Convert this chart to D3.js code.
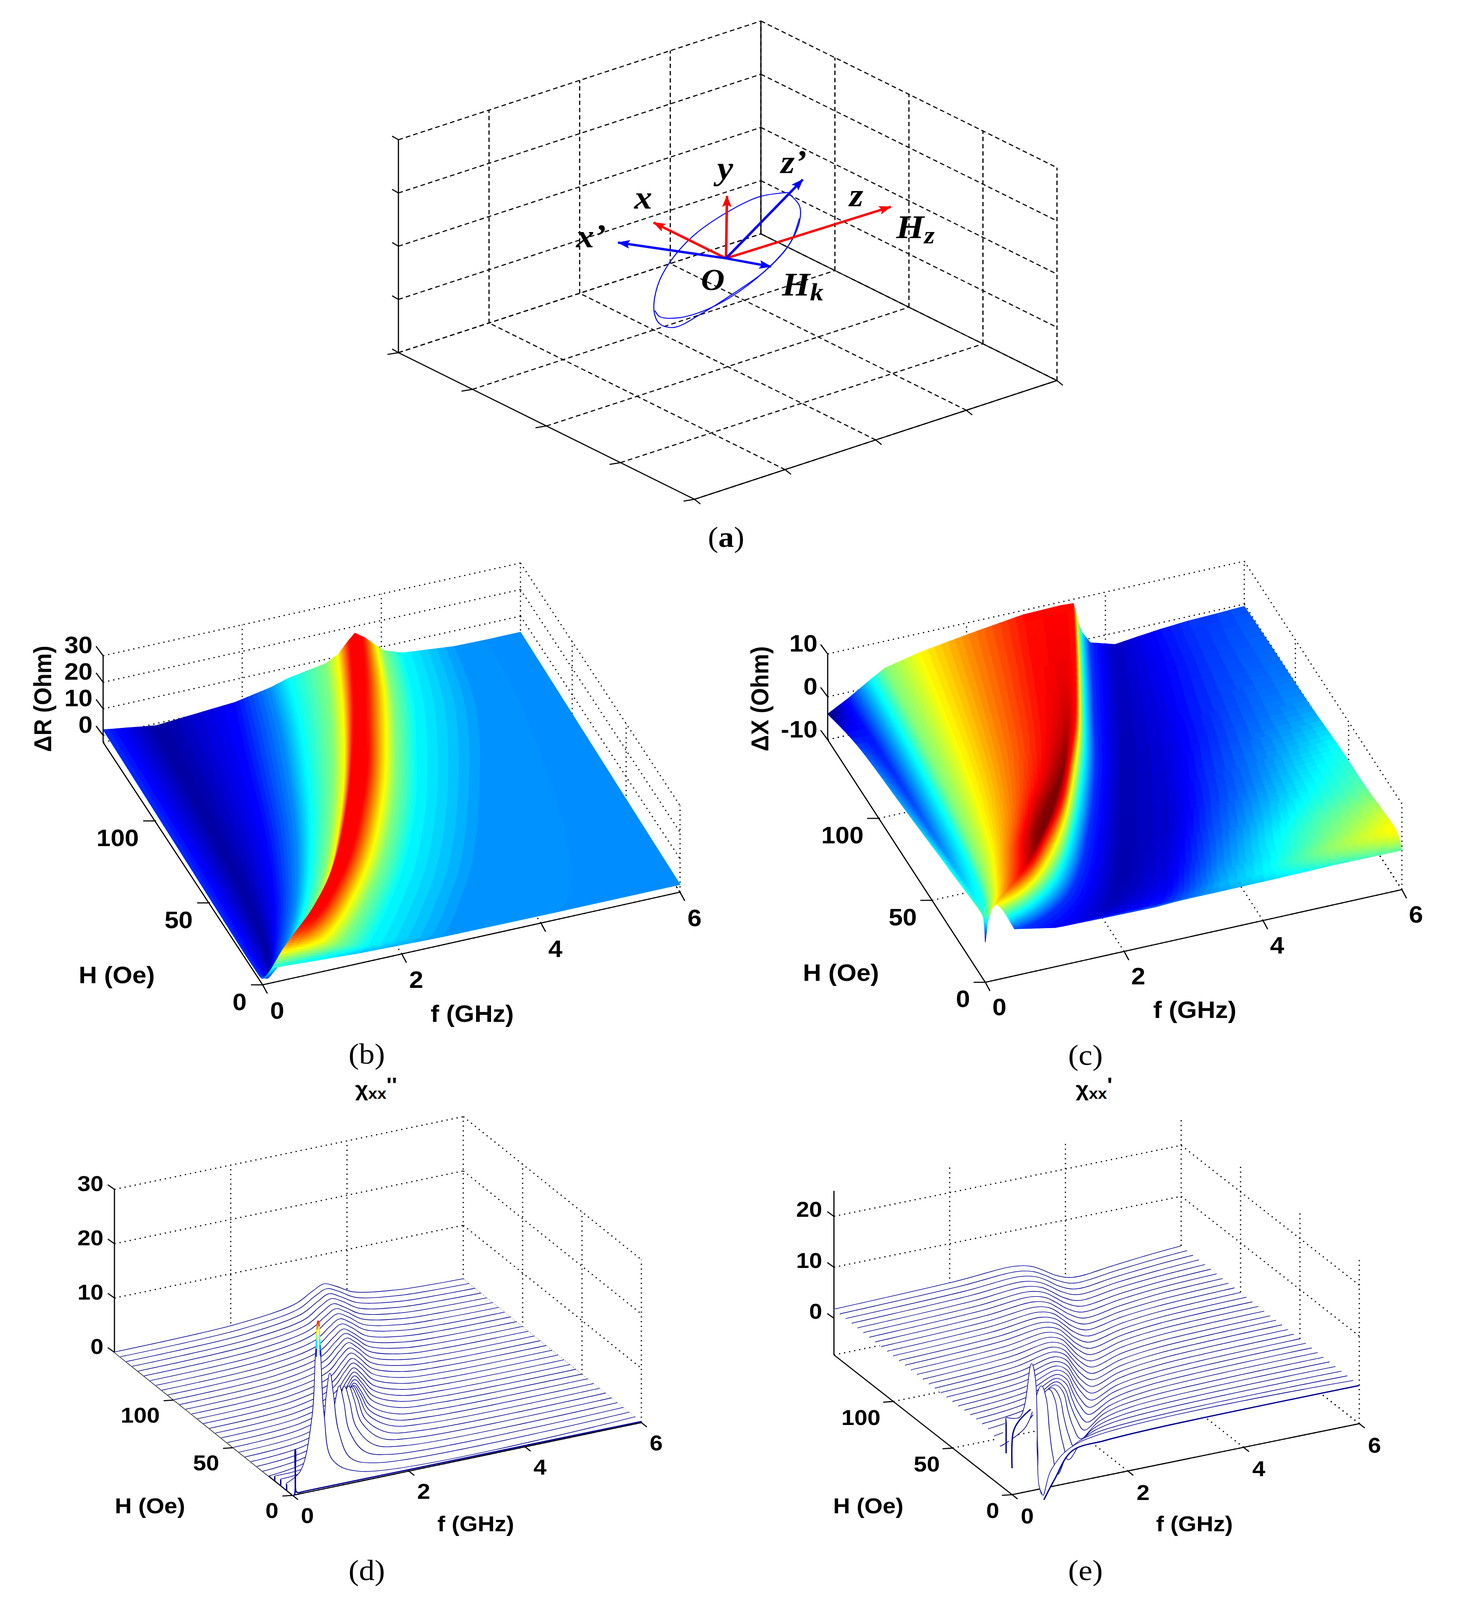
<!DOCTYPE html>
<html><head><meta charset="utf-8">
<script src="https://d3js.org/d3.v7.min.js"></script>
<style>html,body{margin:0;background:#fff;overflow:hidden}svg{display:block;width:100vw;height:100vh}text{font-family:"Liberation Sans";font-weight:bold;fill:#000;dominant-baseline:central}.cap{font-family:"Liberation Serif";font-weight:normal}.it{font-family:"Liberation Serif";font-style:italic;font-weight:bold}</style>
</head><body><svg id="c" viewBox="0 0 3789 4419" preserveAspectRatio="none"></svg>
<script>
// ---------- DATA ----------
const fTicks=[0,2,4,6], hTicks=[0,50,100];
const rTicks=[0,10,20,30], xTicks=[-10,0,10], chiTicksD=[0,10,20,30], chiTicksE=[0,10,20];
const gridTicksA=[0,1,2,3,4];
// (b) Delta-R: rows of H, each row lists f and R at the same nodes across the resonance
const surfH=[148,125,105,85,70,55,42,32,24,17,11,6,3,1,0];
const rF=[
[0,.76,1.9,2.4,2.67,3.2,3.38,3.52,3.62,3.76,3.93,4.04,4.3,5.05,5.5,6],
[0,.72,1.67,2.22,2.47,2.92,3.09,3.22,3.32,3.47,3.69,3.82,4.12,4.95,5.5,6],
[0,.68,1.49,1.99,2.24,2.64,2.81,2.92,3.01,3.16,3.4,3.54,3.84,4.75,5.4,6],
[0,.63,1.32,1.77,1.99,2.34,2.5,2.6,2.69,2.85,3.09,3.24,3.54,4.45,5.3,6],
[0,.6,1.17,1.58,1.78,2.08,2.23,2.33,2.41,2.57,2.82,2.98,3.3,4.2,5.2,6],
[0,.55,1,1.36,1.54,1.81,1.94,2.03,2.1,2.26,2.51,2.68,3,3.95,5.1,6],
[0,.5,.84,1.15,1.32,1.55,1.67,1.75,1.81,1.97,2.22,2.39,2.72,3.7,5,6],
[0,.45,.69,.97,1.12,1.32,1.43,1.5,1.55,1.71,1.95,2.13,2.47,3.5,4.9,6],
[0,.4,.56,.8,.94,1.11,1.21,1.27,1.31,1.47,1.71,1.89,2.24,3.3,4.8,6],
[0,.35,.44,.64,.76,.91,.99,1.04,1.08,1.24,1.49,1.68,2.04,3.1,4.7,6],
[0,.28,.33,.49,.59,.72,.79,.83,.86,1.02,1.28,1.48,1.86,2.95,4.6,6],
[0,.2,.23,.35,.43,.52,.57,.6,.63,.8,1.07,1.3,1.7,2.8,4.5,6],
[0,.13,.17,.25,.31,.37,.41,.43,.45,.63,.93,1.17,1.6,2.7,4.4,6],
[0,.07,.12,.16,.19,.22,.25,.27,.3,.5,.82,1.08,1.55,2.65,4.3,6],
[0,.02,.04,.06,.08,.1,.12,.14,.16,.3,.6,.9,1.4,2.6,4.2,6]];
const rZ=[
[.7,-2.2,0,2.5,4.6,7,9.4,13.5,16,13.5,9.4,7,4.6,2.7,2.5,2.5],
[.7,-2.2,0,2.5,4.6,7,9.4,13.5,15.6,13.5,9.4,7,4.6,2.7,2.5,2.5],
[.7,-2.2,0,2.5,4.6,7,9.4,13.5,15,13.5,9.4,7,4.6,2.7,2.5,2.5],
[.7,-2.2,0,2.5,4.6,7,9.4,14,14.8,14,9.4,7,4.6,2.7,2.5,2.5],
[.7,-2.2,0,2.5,4.6,7,9.4,14,14.5,14,9.4,7,4.6,2.7,2.5,2.5],
[.7,-2.2,0,2.5,4.6,7,9.4,14,14.5,14,9.4,7,4.6,2.7,2.5,2.5],
[.7,-2.2,0,2.5,4.6,7,9.4,14,14.5,14,9.4,7,4.6,2.7,2.5,2.5],
[.7,-2.2,0,2.5,4.6,7,9.4,14,14.5,14,9.4,7,4.6,2.7,2.5,2.5],
[.7,-2.2,0,2.5,4.6,7,9.4,14,14.5,14,9.4,7,4.6,2.7,2.5,2.5],
[.7,-2.2,0,2.5,4.6,7,9.4,14,14.5,14,9.4,7,4.6,2.7,2.5,2.5],
[.8,-2,0,2.5,4.6,7,9.4,14,14.5,14,9.4,7,4.6,2.7,2.5,2.5],
[1,-1.5,.2,2.5,4.6,7,9.4,13.5,14,13.5,9.4,7,4.6,2.7,2.5,2.5],
[1,-.5,.5,2.5,4.6,7,9.4,12,12.5,12,9.4,7,4.6,2.7,2.5,2.5],
[1.5,1,1.5,3,4.6,7,8.5,9.5,10,9.5,8.5,7,4.6,2.7,2.5,2.5],
[2,2.2,2.6,3,3.5,4,4.6,5,5.2,5,4.6,4.2,3.5,2.7,2.5,2.5]];
// (c) Delta-X
const xF=[
[0,.29,.63,.83,1.34,2.03,2.82,3.37,3.54,3.59,3.62,3.66,3.78,4.14,4.5,4.8,5.2,5.6,6],
[0,.26,.58,.76,1.22,1.85,2.57,3.07,3.22,3.27,3.3,3.34,3.47,3.85,4.3,4.7,5.1,5.5,6],
[0,.24,.53,.69,1.11,1.68,2.34,2.79,2.92,2.97,3,3.05,3.18,3.58,4.1,4.5,5,5.5,6],
[0,.22,.47,.62,1,1.51,2.11,2.51,2.62,2.67,2.7,2.75,2.9,3.3,3.9,4.4,4.9,5.4,6],
[0,.19,.42,.56,.9,1.36,1.89,2.25,2.32,2.37,2.42,2.48,2.64,3.05,3.7,4.2,4.8,5.4,6],
[0,.17,.37,.49,.79,1.19,1.66,1.98,2.03,2.08,2.13,2.19,2.37,2.8,3.5,4.1,4.7,5.3,6],
[0,.15,.32,.43,.68,1.04,1.4,1.66,1.75,1.8,1.85,1.91,2.1,2.6,3.3,3.9,4.6,5.3,6],
[0,.13,.28,.37,.6,.91,1.22,1.43,1.47,1.55,1.62,1.69,1.9,2.45,3.1,3.8,4.5,5.2,6],
[0,.11,.24,.32,.52,.78,1.05,1.2,1.23,1.32,1.4,1.48,1.7,2.3,3,3.7,4.4,5.2,6],
[0,.09,.2,.27,.43,.66,.88,1,1.03,1.1,1.18,1.27,1.5,2.15,2.9,3.6,4.3,5.1,6],
[0,.07,.16,.21,.34,.52,.7,.8,.83,.89,.94,1.03,1.27,2,2.8,3.5,4.3,5.1,6],
[0,.05,.11,.15,.24,.37,.5,.57,.6,.64,.68,.77,1,1.8,2.7,3.5,4.2,5,6],
[0,.03,.07,.1,.16,.25,.33,.39,.41,.44,.47,.55,.8,1.6,2.6,3.4,4.2,5,6],
[0,.02,.04,.05,.08,.12,.16,.19,.21,.24,.27,.35,.6,1.3,2.5,3.4,4.2,5,6],
[0,.01,.02,.03,.05,.07,.09,.12,.16,.22,.28,.34,.42,1,2.3,3.3,4.2,5,6]];
const xZ=[
[-4,-1.5,1.9,3.75,5.6,7.3,9,9.2,9,5.6,3.75,1.9,-1,-2.7,-2,-1.5,-1,-.8,-.5],
[-1,-1.5,1.9,3.75,5.6,7.3,9,9.4,9,5.6,3.75,1.9,-1,-2.8,-2.1,-1.5,-1,-.6,-.2],
[0,-1.2,1.9,3.75,5.6,7.3,9,9.6,9,5.6,3.75,1.9,-1,-2.9,-2.2,-1.5,-.8,-.3,0],
[.5,-.8,1.9,3.75,5.6,7.3,9,10,9,5.6,3.75,1.9,-1,-3,-2.3,-1.4,-.6,0,.5],
[1,-.4,1.9,3.75,5.6,7.3,9,10.6,9,5.6,3.75,1.9,-1,-3,-2.3,-1.2,-.2,.6,1.5],
[1.5,0,1.9,3.75,5.6,7.3,9.4,11,9,5.6,3.75,1.9,-1,-3,-2.4,-1,0,1.2,2.3],
[2,.6,1.9,3.75,5.6,7.5,10,11.4,9,5.6,3.75,1.9,-1,-3.1,-2.4,-.8,.6,1.8,2.8],
[2.2,1,2,3.75,5.6,8,10.5,11.5,9,5.6,3.75,1.9,-1,-3.1,-2.3,-.5,1,2.3,3.4],
[2.5,1.4,2.1,3.75,5.8,8.2,10.6,11.3,9,5.6,3.75,1.9,-1,-3.1,-2.2,-.2,1.4,3,4.2],
[2.7,1.7,2.2,3.8,5.9,8,10,11,9,5.6,3.75,1.9,-1,-3,-2,0,1.6,3.3,4.8],
[2.9,2,2.5,3.8,5.7,7.7,9.3,10,8.5,5.6,3.75,1.9,-1,-2.9,-1.8,.3,1.8,3.6,5.4],
[3,2.4,2.8,3.8,5.5,7,8.3,8.8,8,5.6,3.75,1.9,-1,-2.6,-1.5,.6,2,4,5.8],
[3,2.7,3,3.8,5,6.2,7.2,7.6,7,5.6,3.75,1.9,-1,-2.3,-1.3,.8,2,3.8,5.4],
[2.5,2.7,3,3.6,4.5,5.3,6,6.3,6,5.3,3.75,1.9,-1,-2,-1.2,.6,1.8,3.2,4.2],
[-2.5,-1,0,2,3,4,5,5.5,6,5,3.7,1.9,-.5,-1.7,-.5,.5,1.5,2.5,3.4]];
// (d),(e) waterfall rows: H, and f at the nodes of each row
const chiH=[150,145,140,135,130,125,120,115,110,105,100,95,90,85,80,75,70,65,60,55,50,45,40,35,30,25,20,15,10,5];
const chiF=[
[0,2.11,3.11,3.41,3.61,3.81,4.11,4.86,6],[0,2.08,3.06,3.35,3.55,3.75,4.04,4.78,6],[0,2.05,3.01,3.3,3.49,3.68,3.97,4.69,6],
[0,2.02,2.96,3.24,3.43,3.62,3.9,4.61,6],[0,1.98,2.9,3.18,3.36,3.54,3.82,4.51,6],[0,1.95,2.85,3.12,3.3,3.48,3.75,4.43,6],
[0,1.91,2.79,3.05,3.23,3.41,3.67,4.33,6],[0,1.88,2.74,2.99,3.165,3.34,3.6,4.24,6],[0,1.83,2.67,2.92,3.09,3.26,3.51,4.14,6],
[0,1.79,2.61,2.86,3.02,3.18,3.43,4.05,6],[0,1.75,2.55,2.79,2.95,3.11,3.35,3.95,6],[0,1.71,2.49,2.72,2.875,3.03,3.27,3.85,6],
[0,1.66,2.42,2.65,2.8,2.95,3.18,3.75,6],[0,1.61,2.35,2.57,2.72,2.87,3.09,3.65,6],[0,1.56,2.28,2.5,2.64,2.78,3,3.54,6],
[0,1.51,2.21,2.42,2.555,2.7,2.91,3.43,6],[0,1.45,2.13,2.33,2.47,2.61,2.81,3.32,6],[0,1.39,2.05,2.25,2.38,2.51,2.71,3.21,6],
[0,1.33,1.97,2.16,2.285,2.41,2.61,3.09,6],[0,1.26,1.88,2.07,2.19,2.31,2.5,2.97,6],[0,1.19,1.79,1.97,2.09,2.21,2.39,2.84,6],
[0,1.14,1.7,1.87,1.98,2.09,2.26,2.68,6],[0,1.06,1.6,1.76,1.87,1.98,2.14,2.55,6],[0,.97,1.49,1.65,1.75,1.85,2.01,2.4,6],
[0,.9,1.38,1.52,1.62,1.72,1.86,2.22,6],[0,.815,1.255,1.39,1.475,1.56,1.695,2.025,6],[0,.7,1.1,1.22,1.3,1.38,1.5,1.8,6],
[0,.6,.94,1.04,1.11,1.18,1.28,1.54,6],[0,.43,.71,.79,.847,.9,.99,1.2,6],[0,.24,.44,.5,.54,.58,.64,.79,6]];
// tail node of each row, between the last two nodes of chiF
const chiTailF=[5.45,5.4,5.35,5.3,5.2,5.1,5,4.9,4.8,4.7,4.6,4.5,4.4,4.3,4.2,4.1,4,3.9,3.8,3.7,3.6,3.4,3.2,3.05,2.85,2.6,2.35,2,1.65,1.25];
const chiDoubleTail=[.25,.25,.25,.25,.25,.25,.25,.25,.25,.25,.25,.25,.25,.25,.25,.25,.25,.25,.25,.3,.3,.3,.3,.3,.3,.35,.35,.4,.5,.7];
const chiPrimeTail=[-.25,-.25,-.25,-.25,-.25,-.25,-.25,-.25,-.3,-.3,-.3,-.3,-.3,-.3,-.3,-.35,-.35,-.35,-.35,-.35,-.4,-.4,-.45,-.45,-.5,-.55,-.6,-.7,-.8,-.9];
const chiDoubleZ=[
[0,.45,1.9,3.6,4.5,3.6,1.9,.6,.1],[0,.46,1.93,3.7,4.6,3.7,1.93,.6,.1],[0,.47,2,3.75,4.7,3.75,2,.6,.1],
[0,.48,2,3.85,4.8,3.85,2,.62,.1],[0,.5,2.05,3.9,4.9,3.9,2.05,.64,.1],[0,.5,2.1,4,5,4,2.1,.65,.1],
[0,.5,2.15,4.1,5.1,4.1,2.15,.66,.1],[0,.52,2.2,4.15,5.2,4.15,2.2,.68,.1],[0,.53,2.2,4.25,5.3,4.25,2.2,.7,.1],
[0,.54,2.25,4.3,5.4,4.3,2.25,.7,.1],[0,.56,2.35,4.5,5.6,4.5,2.35,.73,.1],[0,.58,2.45,4.65,5.8,4.65,2.45,.75,.1],
[0,.6,2.5,4.8,6,4.8,2.5,.78,.1],[0,.61,2.55,4.9,6.1,4.9,2.55,.8,.1],[0,.62,2.6,5,6.2,5,2.6,.8,.1],
[0,.63,2.65,5,6.3,5,2.65,.82,.1],[0,.65,2.75,5.2,6.5,5.2,2.75,.85,.1],[0,.67,2.8,5.35,6.7,5.35,2.8,.87,.1],
[0,.7,2.95,5.6,7,5.6,2.95,.9,.1],[0,.74,3.1,5.9,7.4,5.9,3.1,.96,.1],[0,.78,3.3,6.25,7.8,6.25,3.3,1,.1],
[0,.83,3.5,6.65,8.3,6.65,3.5,1.1,.12],[0,.9,3.8,7.2,9,7.2,3.8,1.15,.12],[0,1,4.2,8,10,8,4.2,1.3,.12],
[0,1.1,4.6,8.8,11,8.8,4.6,1.4,.12],[0,1.25,5.2,9.9,12.4,9.9,5.2,1.6,.12],[0,1.35,5.7,10.9,13.6,10.9,5.7,1.8,.12],
[.9,1.5,6.3,12,15,12,6.3,2,.12],[1.2,1.9,7.9,15,18.8,15,7.9,2.4,.12],[1.3,3,12.4,23.7,30,23.7,12.4,3.8,.15]];
const chiPrimeZ=[
[1.7,2.3,2.9,2.2,1,-.4,-1.6,-.9,.2],[1.7,2.3,2.9,2.2,1,-.4,-1.65,-.9,.2],[1.7,2.3,2.95,2.2,1,-.45,-1.7,-.9,.2],
[1.7,2.35,3,2.2,.95,-.5,-1.75,-.9,.2],[1.7,2.35,3.05,2.25,.95,-.5,-1.8,-.9,.2],[1.7,2.35,3.1,2.3,.95,-.55,-1.85,-.95,.2],
[1.7,2.4,3.15,2.35,.95,-.6,-1.9,-.95,.2],[1.7,2.4,3.2,2.4,.95,-.6,-2,-1,.2],[1.7,2.4,3.25,2.45,.95,-.65,-2.05,-1,.2],
[1.7,2.4,3.3,2.45,.95,-.7,-2.1,-1,.2],[1.7,2.45,3.35,2.5,.95,-.75,-2.2,-1.05,.2],[1.7,2.45,3.4,2.55,.95,-.8,-2.3,-1.05,.2],
[1.7,2.5,3.5,2.6,.95,-.85,-2.4,-1.1,.2],[1.7,2.5,3.6,2.7,.95,-.9,-2.5,-1.1,.2],[1.7,2.55,3.7,2.75,.95,-.95,-2.6,-1.15,.2],
[1.7,2.6,3.8,2.85,.95,-1,-2.7,-1.2,.2],[1.7,2.6,3.95,2.95,.95,-1.05,-2.8,-1.25,.25],[1.75,2.7,4.1,3.05,.95,-1.1,-2.9,-1.3,.25],
[1.8,2.75,4.25,3.2,1,-1.15,-3.05,-1.35,.25],[1.85,2.8,4.45,3.3,1,-1.2,-3.2,-1.4,.25],[1.9,2.9,4.7,3.5,1,-1.3,-3.4,-1.5,.25],
[1.95,3,5,3.75,1.05,-1.4,-3.6,-1.6,.3],[2,3.1,5.3,4,1.1,-1.5,-3.8,-1.7,.3],[2.05,3.2,5.7,4.25,1.1,-1.65,-4.1,-1.8,.3],
[2.1,3.3,6.2,4.6,1.15,-1.8,-4.4,-1.9,.3],[2.1,3.4,6.8,5.1,1.2,-2,-4.8,-2.1,.3],[2,3.5,7.5,5.6,1.3,-2.3,-5.3,-2.3,.3],
[1.5,3.5,8.5,6.4,1.4,-2.6,-6,-2.6,.3],[.5,3.2,10.6,8,1.5,-3.2,-7.3,-3,.3],[7,6.5,16.5,13.5,0,-8,-9.8,-5,.3]];
// front row H = 0
const chiDoubleRow0F=[0,.03,.045,.05,.06,.09,.2,.6,6], chiDoubleRow0Z=[0,0,8.3,8.3,.6,.3,.3,.3,.2];
const chiPrimeRow0F=[0,.02,.12,.32,.4,.55,.73,1.04,1.6,2.5,6], chiPrimeRow0Z=[-2,5,7,8.8,NaN,-9.5,-6,-1,-.3,.1,.3];
// short stems at f = 0 of the lowest rows: H, from, to
const chiDoubleStems=[[15,0,.9],[10,0,1.2],[5,0,1.3]];
const chiPrimeStems=[[5,0,7]];
// peak of the H=5 row of (d): f and value, coloured by value
const spikeF=[.505,.51,.515,.52,.525,.53,.54,.55,.56,.565,.57,.575,.58,.585];
const spikeZ=[23.5,25,26.5,27.5,28.5,29.5,30,30,29,27.5,26.5,25.5,24.5,23.5];
// (a): coil and vectors, in the plane coordinates of the sketch
const ringX=[880,905,905,880,830,760,700,640,610,598,605,630,680,750,820,880], ringY=[538,575,620,690,760,825,875,915,905,870,800,735,660,595,550,538];
const ring2X=[905,885,830,760,700,650,610,600], ring2Y=[610,680,760,830,870,888,885,868];
const originXY=[750,722];
const vecNames=["x","y","z","x'","z'","Hk"];
const vecX=[597,752,1098,522,912,845], vecY=[622,548,578,678,502,745];
const vecCols=["red","red","red","blue","blue","blue"];

// ---------- HELPERS ----------
const svg=d3.select("#c");
const jet=d3.scaleLinear().domain([0,.125,.375,.625,.875,1]).range(["#00008f","#0000ff","#00ffff","#ffff00","#ff0000","#800000"]).clamp(true);
function panel(o){
  const s={};
  s.xF=d3.scaleLinear().domain(o.fDom).range([0,o.C[0]-o.D[0]]);
  s.yF=d3.scaleLinear().domain(o.fDom).range([0,o.C[1]-o.D[1]]);
  s.xH=d3.scaleLinear().domain(o.hDom).range([0,o.A[0]-o.D[0]]);
  s.yH=d3.scaleLinear().domain(o.hDom).range([0,o.A[1]-o.D[1]]);
  s.yZ=d3.scaleLinear().domain(o.zDom).range([0,-o.zH]);
  const base=o.off?d3.scaleLinear().domain(o.hDom).range(o.off):(()=>0), fade=d3.scaleLinear().domain(o.hDom).range([1,0]);
  s.off=(f,H)=>base(H)+(o.twist?o.twist*(f-1)*fade(H)*fade(H):0);
  s.px=(f,H)=>o.D[0]+s.xF(f)+s.xH(H);
  s.py=(f,H,z)=>o.D[1]+s.yF(f)+s.yH(H)+s.yZ(z);
  s.o=o; return s;
}
function seg(g,a,b,st){g.append("line").attr("x1",a[0]).attr("y1",a[1]).attr("x2",b[0]).attr("y2",b[1]).attr("stroke","#000").attr("stroke-width",st.w).attr("stroke-dasharray",st.d||null);}
function box(s,g,st){
  const o=s.o,[f0,f1]=o.fDom,[h0,h1]=o.hDom,[zb,zt]=o.zDom; const P=(f,H,z)=>[s.px(f,H),s.py(f,H,z)];
  o.zGrid.forEach(z=>{seg(g,P(f0,h1,z),P(f1,h1,z),st);seg(g,P(f1,h1,z),P(f1,h0,z),st);});
  o.fT.filter(f=>f>f0).forEach(f=>{seg(g,P(f,h1,zb),P(f,h1,zt),st);seg(g,P(f,h0,zb),P(f,h1,zb),st);});
  o.hT.filter(h=>h<h1).forEach(h=>{seg(g,P(f1,h,zb),P(f1,h,zt),st);seg(g,P(f0,h,zb),P(f1,h,zb),st);});
  seg(g,P(f0,h1,zb),P(f1,h1,zb),st);seg(g,P(f1,h1,zb),P(f1,h0,zb),st);
}
function axes(s,g){
  const o=s.o,[f0,f1]=o.fDom,[h0,h1]=o.hDom,[zb,zt]=o.zDom; const P=(f,H,z)=>[s.px(f,H),s.py(f,H,z)],st={w:3};
  seg(g,P(f0,h0,zb),P(f1,h0,zb),st);seg(g,P(f0,h0,zb),P(f0,h1,zb),st);seg(g,P(f0,h1,zb),P(f0,h1,zt),st);
  if(o.solidBack) seg(g,P(f1,h1,zb),P(f1,h1,zt),st);
  const T=(p,v)=>seg(g,p,[p[0]+v[0],p[1]+v[1]],st);
  o.fT.forEach(f=>T(P(f,h0,zb),o.fTick));
  o.hT.forEach(h=>T(P(f0,h,zb),o.hTick));
  o.zT.forEach(z=>T(P(f0,h1,z),o.zTick));
}
function labels(s,g){
  const o=s.o,[f0]=o.fDom,[h0,h1]=o.hDom,[zb]=o.zDom;
  const t=(x,y,str,a)=>g.append("text").attr("x",x).attr("y",y).attr("text-anchor",a).attr("font-size",o.fs).text(str);
  fTicks.forEach(f=>t(s.px(f,h0)+o.fLab[0],s.py(f,h0,zb)+o.fLab[1],f,"middle"));
  hTicks.forEach(h=>t(s.px(f0,h)+o.hLab[0],s.py(f0,h,zb)+o.hLab[1],h,"end"));
  o.zT.forEach(z=>t(s.px(f0,h1)+o.zLab[0],s.py(f0,h1,z)+o.zLab[1],z,"end"));
  t(o.hName[0],o.hName[1],"H (Oe)","middle");t(o.fName[0],o.fName[1],"f (GHz)","middle");
  if(o.zName) g.append("text").attr("transform",`translate(${o.zName[1]},${o.zName[2]}) rotate(-90)`).attr("text-anchor","middle").attr("font-size",63).text(o.zName[0]);
}
function surface(s,g,Hs,Fm,Zm,colorScale,nRows,dz){
  const nc=Fm[0].length, iH=d3.interpolateBasis(Hs);
  const iF=d3.range(nc).map(j=>d3.interpolateBasis(Fm.map(r=>r[j])));
  const iZ=d3.range(nc).map(j=>d3.interpolateBasis(Zm.map(r=>r[j])));
  const rows=d3.range(nRows+1).map(i=>{const u=i/nRows;return {H:iH(u),f:iF.map(q=>q(u)),z:iZ.map(q=>q(u))};});
  const pt=(r,j,t)=>{const f=r.f[j]+(r.f[j+1]-r.f[j])*t,z=r.z[j]+(r.z[j+1]-r.z[j])*t;return [s.px(f,r.H),s.py(f,r.H,z)+s.off(f,r.H)];};
  const cz=(r,j,t)=>r.z[j]+(r.z[j+1]-r.z[j])*t;
  for(let i=0;i<nRows;i++){const a=rows[i],b=rows[i+1];
    for(let j=0;j<nc-1;j++){
      const dd=Math.max(Math.abs(a.z[j+1]-a.z[j]),Math.abs(b.z[j+1]-b.z[j]));
      const n=Math.max(1,Math.ceil(dd/dz));
      for(let k=0;k<n;k++){const t0=k/n,t1=(k+1)/n,tm=(t0+t1)/2;
        const c=colorScale((cz(a,j,tm)+cz(b,j,tm))/2);
        const d=[pt(a,j,t0),pt(a,j,t1),pt(b,j,t1),pt(b,j,t0)].map(p=>p[0].toFixed(1)+","+p[1].toFixed(1)).join("L");
        g.append("path").attr("d","M"+d+"Z").attr("fill",c).attr("stroke",c).attr("stroke-width",1.6);
      }
    }
  }
}
function waterfall(s,g,Hs,Fm,Zm,tailF,tailZ,row0F,row0Z,stems){
  const line=d3.line().x(d=>s.px(d.f,d.H)).y(d=>s.py(d.f,d.H,d.z)).defined(d=>!isNaN(d.z)).curve(d3.curveCatmullRom.alpha(.5));
  const rows=Hs.map((H,i)=>{const fs=Fm[i].slice(0,8).concat(tailF[i],Fm[i][8]),zs=Zm[i].slice(0,8).concat(tailZ[i],Zm[i][8]);return fs.map((f,j)=>({f,H,z:zs[j]}));});
  rows.push(row0F.map((f,j)=>({f,H:0,z:row0Z[j]})));
  rows.forEach((r,i)=>{
    if(i>0){const cur=r.filter(d=>!isNaN(d.z)),prev=rows[i-1].filter(d=>!isNaN(d.z)).slice().reverse();
      g.append("path").attr("d",line(cur)+"L"+line(prev).slice(1)+"Z").attr("fill","#fff").attr("stroke","none");}
    g.append("path").attr("d",line(r)).attr("fill","none").attr("stroke","#000096").attr("stroke-width",3.5);
    stems.filter(q=>q[0]===r[0].H).forEach(q=>g.append("line").attr("x1",s.px(0,q[0])).attr("y1",s.py(0,q[0],q[1])).attr("x2",s.px(0,q[0])).attr("y2",s.py(0,q[0],q[2])).attr("stroke","#000096").attr("stroke-width",3.5));
  });
}
function caption(x,y,ch,bold){const t=svg.append("text").attr("class","cap").attr("x",x).attr("y",y).attr("text-anchor","middle").attr("font-size",80);
  t.append("tspan").text("(");t.append("tspan").attr("font-weight",bold?"bold":"normal").text(ch);t.append("tspan").text(")");}
function title(x,y,primes){const t=svg.append("text").attr("x",x).attr("y",y).attr("text-anchor","middle").attr("font-size",58);
  t.append("tspan").text("χ");t.append("tspan").attr("font-size",42).attr("dy",14).text("xx");t.append("tspan").attr("dy",-24).attr("font-size",58).text(primes);}

const dotted={w:3.2,d:"3.2 10"};
// ---------- PANEL a ----------
{
  const s=panel({D:[1778,1379],A:[1020,974],C:[2706,1051],fDom:[0,4],hDom:[0,4],zDom:[0,4],zH:588,
    fT:gridTicksA,hT:gridTicksA,zT:gridTicksA,zGrid:gridTicksA,fTick:[15,13],hTick:[-28,5],zTick:[-16,-10],solidBack:true});
  const g=svg.append("g");box(s,g,{w:3,d:"12 8"});axes(s,g);
  const ax=d3.scaleLinear().domain([58,1449]).range([1020,2706]), ay=d3.scaleLinear().domain([57,1395]).range([56,1379]);
  const defs=svg.append("defs");
  ["red","blue"].forEach(c=>defs.append("marker").attr("id","ah"+c).attr("markerUnits","userSpaceOnUse").attr("markerWidth",34).attr("markerHeight",28).attr("refX",30).attr("refY",12).attr("orient","auto")
    .append("path").attr("d","M0,0L32,12L0,24L6,12Z").attr("fill",c==="red"?"#ff0000":"#0000ff"));
  const curve=d3.line().x(d=>ax(d[0])).y(d=>ay(d[1])).curve(d3.curveCatmullRom.alpha(.5));
  g.append("path").attr("d",curve(d3.zip(ringX,ringY))).attr("fill","none").attr("stroke","#0000ff").attr("stroke-width",2.6);
  g.append("path").attr("d",curve(d3.zip(ring2X,ring2Y))).attr("fill","none").attr("stroke","#0000ff").attr("stroke-width",2.6);
  vecNames.forEach((n,i)=>g.append("line").attr("x1",ax(originXY[0])).attr("y1",ay(originXY[1])).attr("x2",ax(vecX[i])).attr("y2",ay(vecY[i]))
     .attr("stroke",vecCols[i]==="red"?"#ff0000":"#0000ff").attr("stroke-width",6.5).attr("marker-end",`url(#ah${vecCols[i]})`));
  const txt=(x,y,str,fs,sub)=>{const t=g.append("text").attr("class","it").attr("x",ax(x)).attr("y",ay(y)).attr("text-anchor","middle").attr("font-size",fs);t.append("tspan").text(str);
     if(sub) t.append("tspan").attr("font-size",fs*.75).attr("dy",fs*.22).text(sub);};
  txt(575,552,"x",92);txt(748,470,"y",92);txt(893,452,"z’",92);txt(1025,545,"z",92);txt(465,660,"x’",92);txt(722,782,"O",84);
  txt(1150,635,"H",92,"z");txt(912,795,"H",92,"k");
  caption(1859,1483,"a",true);
}
// ---------- PANEL b ----------
{
  const s=panel({D:[672.5,2720],A:[264,2050],C:[1741,2464],fDom:[0,6],hDom:[0,148],zDom:[-2.6,30],zH:239,fT:fTicks,hT:hTicks,zT:rTicks,zGrid:rTicks,
    off:[16.5,-10.5],fTick:[12,24],hTick:[-30,0],zTick:[-18,-26],fLab:[37,71],hLab:[-41,47],zLab:[-27,-30],fs:65,hName:[299,2693],fName:[1209,2799],zName:["ΔR (Ohm)",109,1930]});
  const g=svg.append("g");box(s,g,dotted);
  const cs=d3.scaleLinear().domain([-2.5,14.1]).range([0,.875]).clamp(true);
  surface(s,g,surfH,rF,rZ,z=>jet(cs(z)),70,.35);axes(s,g);labels(s,g);
  caption(939,2911,"b");
}
// ---------- PANEL c ----------
{
  const s=panel({D:[2522.5,2713],A:[2119,2043],C:[3589,2457],fDom:[0,6],hDom:[0,148],zDom:[-10,10],zH:237,fT:fTicks,hT:hTicks,zT:xTicks,zGrid:xTicks,
    off:[-10,0],twist:12,fTick:[12,24],hTick:[-30,0],zTick:[-18,-26],fLab:[36,68],hLab:[-39,46],zLab:[-26,-29],fs:65,hName:[2153,2686],fName:[3059,2789],zName:["ΔX (Ohm)",1945,1930]});
  const g=svg.append("g");box(s,g,dotted);
  const cs=d3.scaleLinear().domain([-3.5,11]).range([0,1]);
  surface(s,g,surfH,xF,xZ,z=>jet(cs(z)),70,.25);axes(s,g);labels(s,g);
  caption(2779,2914,"c");
}
// ---------- PANEL d ----------
{
  const s=panel({D:[749,4130],A:[293,3735],C:[1642,3929],fDom:[0,6],hDom:[0,150],zDom:[0,30],zH:450,fT:fTicks,hT:hTicks,zT:chiTicksD,zGrid:chiTicksD,
    fTick:[14,12],hTick:[-26,2],zTick:[-17,-13],fLab:[38,56],hLab:[-36,42],zLab:[-28,-16],fs:60,hName:[384,4159],fName:[1218,4208]});
  const g=svg.append("g");box(s,g,dotted);axes(s,g);
  waterfall(s,g,chiH,chiF,chiDoubleZ,chiTailF,chiDoubleTail,chiDoubleRow0F,chiDoubleRow0Z,chiDoubleStems);
  const cs=d3.scaleLinear().domain([23,30]).range([0,.875]);
  d3.pairs(d3.zip(spikeF,spikeZ)).forEach(([a,b])=>{g.append("line").attr("x1",s.px(a[0],5)).attr("y1",s.py(a[0],5,a[1])).attr("x2",s.px(b[0],5)).attr("y2",s.py(b[0],5,b[1]))
     .attr("stroke",jet(cs((a[1]+b[1])/2))).attr("stroke-width",4);});
  labels(s,g);title(963,3006,"''");caption(939,4337,"d");
}
// ---------- PANEL e ----------
{
  const s=panel({D:[2591,4128],A:[2135,3742],C:[3480,3932],fDom:[0,6],hDom:[0,150],zDom:[-7.2,25],zH:453,fT:fTicks,hT:hTicks,zT:chiTicksE,zGrid:chiTicksE.slice(1),
    fTick:[14,12],hTick:[-26,2],zTick:[-17,-13],fLab:[39,59],hLab:[-33,44],zLab:[-30,-19],fs:60,hName:[2223,4159],fName:[3058,4208]});
  const g=svg.append("g");box(s,g,dotted);axes(s,g);
  waterfall(s,g,chiH,chiF,chiPrimeZ,chiTailF,chiPrimeTail,chiPrimeRow0F,chiPrimeRow0Z,chiPrimeStems);
  labels(s,g);title(2801,3006,"'");caption(2779,4337,"e");
}
</script></body></html>
